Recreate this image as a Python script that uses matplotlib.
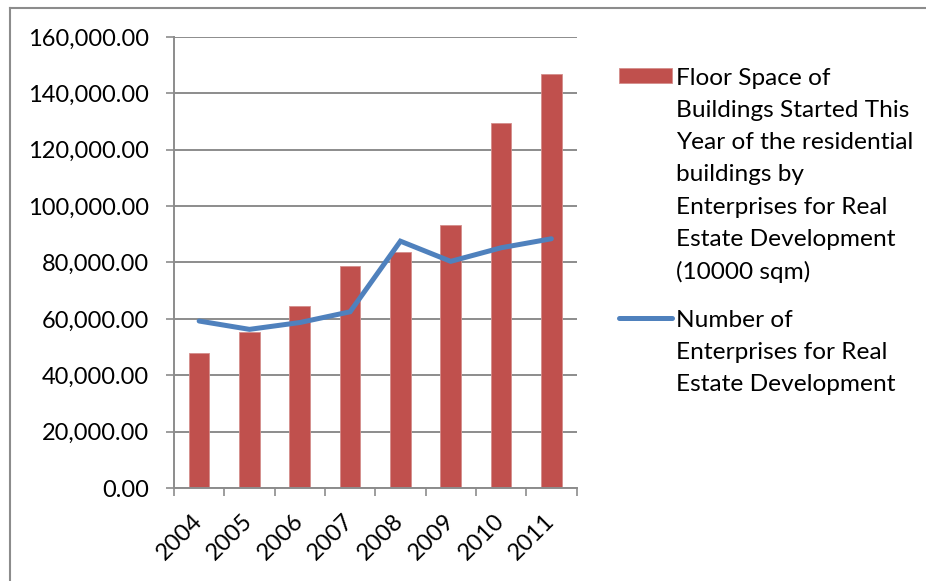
import matplotlib
matplotlib.use("Agg")
import matplotlib.pyplot as plt
from matplotlib.ticker import FuncFormatter, FixedLocator
from matplotlib.lines import Line2D
import numpy as np

years = ["2004", "2005", "2006", "2007", "2008", "2009", "2010", "2011"]
floor_space = [47949, 55185, 64404, 78796, 83642, 93298, 129359, 147000]
enterprises = [59242, 56290, 58710, 62518, 87562, 80407, 85218, 88419]

bar_label = ("Floor Space of\nBuildings Started This\nYear of the residential\n"
             "buildings by\nEnterprises for Real\nEstate Development\n(10000 sqm)")
line_label = "Number of\nEnterprises for Real\nEstate Development"

plt.rcParams["font.family"] = ["Lato", "DejaVu Sans"]

fig = plt.figure(figsize=(9.26, 5.81), dpi=100)
ax = fig.add_axes([0.1879, 0.1599, 0.4347, 0.7766])

x = np.arange(len(years))
bars = ax.bar(x, floor_space, width=0.41, color="#C0504D", edgecolor="#D48D8B",
              linewidth=0.6, label=bar_label, zorder=2)
line, = ax.plot(x, enterprises, color="#4F81BD", linewidth=3.6,
                solid_capstyle="round", solid_joinstyle="miter",
                label=line_label, zorder=3)

ax.set_xlim(-0.5, len(years) - 0.5)
ax.set_ylim(0, 160000)
ax.set_yticks(np.arange(0, 160001, 20000))
ax.yaxis.set_major_formatter(FuncFormatter(lambda v, p: f"{v:,.2f}"))
ax.grid(axis="y", color="#8C8C8C", linewidth=1.4, zorder=0)
ax.set_axisbelow(True)

# tick marks sit on the category boundaries, labels in the middle
ax.xaxis.set_major_locator(FixedLocator(np.arange(-0.5, len(years), 1.0)))
ax.xaxis.set_minor_locator(FixedLocator(x))
ax.set_xticklabels([], minor=False)
ax.set_xticklabels(years, minor=True, rotation=45, ha="right", va="center",
                   rotation_mode="anchor")
ax.tick_params(axis="x", which="major", length=6, width=1.2, color="#8C8C8C")
ax.tick_params(axis="x", which="minor", length=0, pad=21, labelsize=17)
ax.tick_params(axis="y", length=6, width=1.2, color="#8C8C8C", pad=12,
               labelsize=17)

for side in ("top", "right"):
    ax.spines[side].set_visible(False)
for side in ("left", "bottom"):
    ax.spines[side].set_color("#8C8C8C")
    ax.spines[side].set_linewidth(1.4)

leg = ax.legend(handles=[bars, line], loc="upper left",
                bbox_to_anchor=(1.08, 0.952), frameon=False,
                fontsize=17.6, handlelength=2.2, handleheight=0.55,
                handletextpad=0.15, labelspacing=1.1, borderaxespad=0)
for t in leg.get_texts():
    t.set_linespacing(1.65)
# pin each legend key to the first line of its label
for col in leg._legend_handle_box.get_children():
    for item in col.get_children():
        item.align = "top"

# outer chart border (left and top edges visible)
fig.add_artist(Line2D([9.5 / 926, 9.5 / 926], [0, 1 - 7.5 / 581],
                      transform=fig.transFigure, color="#8C8C8C", linewidth=1.5))
fig.add_artist(Line2D([9.5 / 926, 1], [1 - 7.5 / 581, 1 - 7.5 / 581],
                      transform=fig.transFigure, color="#8C8C8C", linewidth=1.5))

fig.savefig("out.png", dpi=100)
